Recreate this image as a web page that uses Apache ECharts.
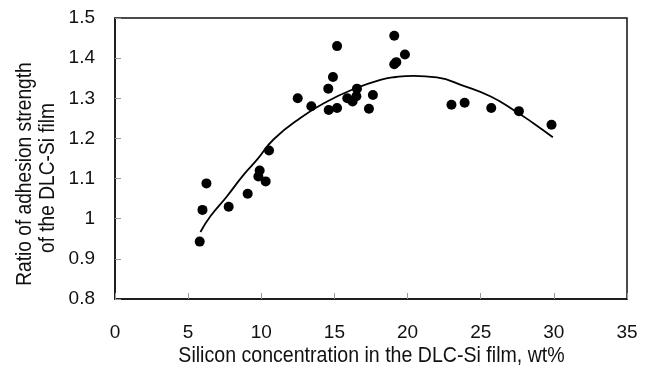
<!DOCTYPE html>
<html><head><meta charset="utf-8">
<script src="https://cdn.jsdelivr.net/npm/echarts@6/dist/echarts.min.js"></script>
<style>html,body{margin:0;padding:0;background:#fff}#c{width:649px;height:370px}</style>
</head><body><div id="c"></div>
<script>
var siliconX = [5.79, 5.98, 6.25, 7.77, 9.07, 9.89, 9.80, 10.30, 10.53, 12.49, 13.42, 14.58, 14.90, 15.18, 14.61, 15.18, 15.88, 16.24, 16.50, 16.54, 17.36, 17.63, 19.09, 19.09, 19.23, 19.82, 23.0, 23.9, 25.72, 27.61, 29.84];
var adhesionY = [0.943, 1.022, 1.088, 1.030, 1.062, 1.120, 1.105, 1.093, 1.170, 1.300, 1.280, 1.324, 1.353, 1.430, 1.271, 1.276, 1.300, 1.292, 1.305, 1.324, 1.274, 1.308, 1.456, 1.385, 1.390, 1.409, 1.284, 1.289, 1.276, 1.268, 1.234];
var trendX = [5.84, 6.52, 7.66, 8.80, 9.71, 10.85, 12.67, 14.5, 16.31, 18.14, 19.2, 20.41, 22.0, 23.83, 25.65, 27.24, 28.6, 29.93];
var trendY = [0.967, 1.006, 1.056, 1.110, 1.147, 1.198, 1.251, 1.292, 1.323, 1.346, 1.353, 1.356, 1.352, 1.331, 1.305, 1.271, 1.238, 1.203];
var xTitle = 'Silicon concentration in the DLC-Si film, wt%';
var yTitleLines = ['Ratio of adhesion strength', 'of the DLC-Si film'];

var font = '"Liberation Sans", Arial, sans-serif';
var pts = siliconX.map(function (x, i) { return [x, adhesionY[i]]; });
var curve = trendX.map(function (x, i) { return [x, trendY[i]]; });
var chart = echarts.init(document.getElementById('c'), null, {renderer: 'canvas'});
chart.setOption({
  animation: false,
  backgroundColor: '#fff',
  grid: {left: 115, right: 22, top: 18, bottom: 71, show: true, borderColor: '#111', borderWidth: 1.5, backgroundColor: 'transparent'},
  xAxis: {
    type: 'value', min: 0, max: 35, interval: 5,
    axisLine: {show: true, lineStyle: {color: '#111', width: 1.5}},
    axisTick: {show: true, inside: true, length: 6, lineStyle: {color: '#999'}},
    axisLabel: {fontFamily: font, fontSize: 19, color: '#111', margin: 24},
    splitLine: {show: false}
  },
  yAxis: {
    type: 'value', min: 0.8, max: 1.5, interval: 0.1,
    axisLine: {show: true, lineStyle: {color: '#111', width: 1.5}},
    axisTick: {show: true, inside: true, length: 6, lineStyle: {color: '#999'}},
    axisLabel: {fontFamily: font, fontSize: 19, color: '#111', margin: 20},
    splitLine: {show: false}
  },
  graphic: [
    {type: 'text', x: 371.5, y: 356, scaleX: 0.89, style: {text: xTitle, font: '22px ' + font, fill: '#111', align: 'center', verticalAlign: 'middle'}},
    {type: 'text', x: 25, y: 174, rotation: Math.PI / 2, scaleX: 0.87, style: {text: yTitleLines[0], font: '22px ' + font, fill: '#111', align: 'center', verticalAlign: 'middle'}},
    {type: 'text', x: 48, y: 178, rotation: Math.PI / 2, scaleX: 0.87, style: {text: yTitleLines[1], font: '22px ' + font, fill: '#111', align: 'center', verticalAlign: 'middle'}}
  ],
  series: [
    {type: 'line', data: curve, smooth: true, symbol: 'none', lineStyle: {color: '#000', width: 1.8}, z: 2},
    {type: 'scatter', data: pts, symbol: 'circle', symbolSize: 10, itemStyle: {color: '#000', opacity: 1}, z: 3}
  ]
});
</script></body></html>
